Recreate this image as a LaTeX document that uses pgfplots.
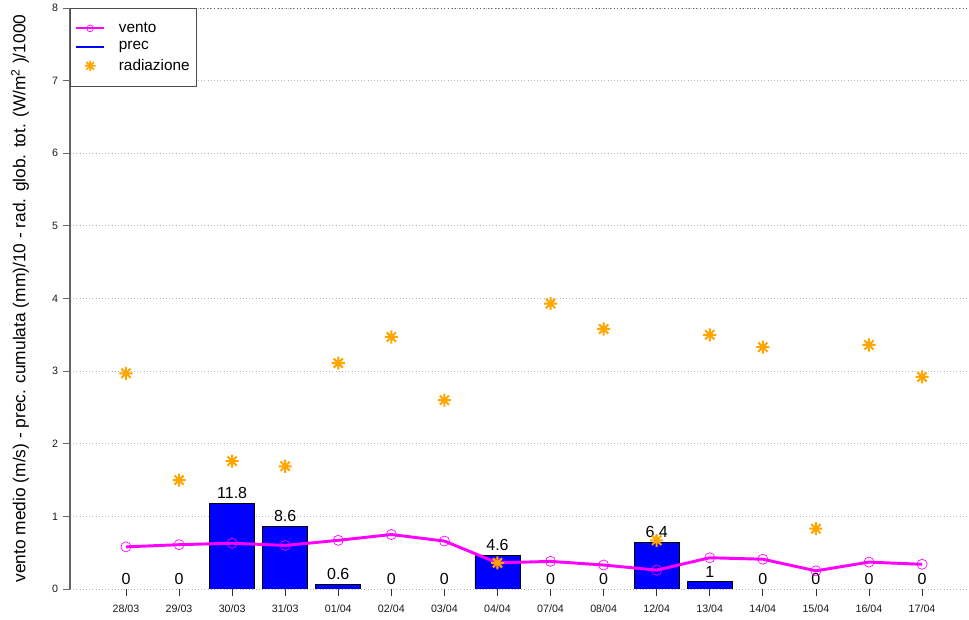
\documentclass[border=0pt]{standalone}
\usepackage{fontspec}
\setmainfont{Liberation Sans}
\usepackage{pgfplots}
\pgfplotsset{compat=1.18}
\usepackage{pgfplotstable}

\definecolor{rmagenta}{HTML}{FF00FF}
\definecolor{rblue}{HTML}{0000FF}
\definecolor{rorange}{HTML}{FFA500}

% R pch=8: "+" and "x" on top of each other
\pgfdeclareplotmark{rstar}{%
  \pgfpathmoveto{\pgfqpoint{-\pgfplotmarksize}{0pt}}%
  \pgfpathlineto{\pgfqpoint{\pgfplotmarksize}{0pt}}%
  \pgfpathmoveto{\pgfqpoint{0pt}{-\pgfplotmarksize}}%
  \pgfpathlineto{\pgfqpoint{0pt}{\pgfplotmarksize}}%
  \pgfpathmoveto{\pgfqpoint{-.7071\pgfplotmarksize}{-.7071\pgfplotmarksize}}%
  \pgfpathlineto{\pgfqpoint{.7071\pgfplotmarksize}{.7071\pgfplotmarksize}}%
  \pgfpathmoveto{\pgfqpoint{-.7071\pgfplotmarksize}{.7071\pgfplotmarksize}}%
  \pgfpathlineto{\pgfqpoint{.7071\pgfplotmarksize}{-.7071\pgfplotmarksize}}%
  \pgfusepathqstroke}

% x = day index, vento (m/s), prec (mm), prec/10, rad/1000
\pgfplotstableread{
x vento prec p10 rad
0  0.58 0    0    2.97
1  0.61 0    0    1.50
2  0.63 11.8 1.18 1.76
3  0.60 8.6  0.86 1.69
4  0.67 0.6  0.06 3.11
5  0.75 0    0    3.47
6  0.66 0    0    2.60
7  0.36 4.6  0.46 0.36
8  0.38 0    0    3.93
9  0.33 0    0    3.58
10 0.26 6.4  0.64 0.67
11 0.43 1    0.10 3.50
12 0.41 0    0    3.33
13 0.25 0    0    0.83
14 0.37 0    0    3.36
15 0.34 0    0    2.92
}\dati

% bars drawn only where it rained
\pgfplotstableread{
x p10
2  1.18
3  0.86
4  0.06
7  0.46
10 0.64
11 0.10
}\barre

\begin{document}
\begin{tikzpicture}
\begin{axis}[
  name=ax,
  scale only axis,
  width=674.25pt, height=435.75pt,
  xmin=-1.055, xmax=15.885,
  ymin=0, ymax=8,
  axis x line*=bottom,
  axis y line*=left,
  x axis line style={draw=none},
  y axis line style={draw=black!60, line width=0.9pt},
  tick align=outside,
  major tick length=5.5pt,
  xtick={0,...,15},
  xticklabels={28/03,29/03,30/03,31/03,01/04,02/04,03/04,04/04,07/04,08/04,12/04,13/04,14/04,15/04,16/04,17/04},
  ytick={0,...,8},
  x tick style={black!80, line width=0.6pt},
  y tick style={black!60, line width=0.6pt},
  /pgf/number format/assume math mode=true,
  tick label style={font=\fontsize{8}{9.5}\selectfont, text=black!90},
  xticklabel style={yshift=-3pt},
  ymajorgrids,
  grid style={black!30, dotted, line width=0.6pt},
  ylabel={vento medio (m/s) - prec. cumulata (mm)/10 - rad. glob. tot. (W/m\textsuperscript{2} )/1000},
  ylabel style={at={(axis description cs:-0.0556,0.5)}, anchor=center, font=\fontsize{13}{15}\selectfont},
  legend style={at={(axis description cs:0,1)}, anchor=north west, draw=black!70, line width=0.7pt,
    font=\fontsize{11.5}{13}\selectfont, row sep=1.5pt, inner xsep=3.5pt, inner ysep=8.5pt,
    nodes={inner sep=2pt}},
  legend cell align=left,
  legend image code/.code={\draw[mark repeat=2,mark phase=2,#1] plot coordinates {(0cm,0cm) (0.37cm,0cm) (0.74cm,0cm)};
    \path (1.03cm,0cm);},
]
% riferimento dello zero e del bordo superiore
\addplot[forget plot, black, dash pattern=on 1.5pt off 1.2pt, line width=0.6pt] coordinates {(-1.055,0) (15.885,0)};
\addplot[forget plot, black!60, dotted, line width=0.7pt] coordinates {(-1.055,8) (15.885,8)};

\addplot[forget plot, ybar, bar width=0.85, fill=rblue, draw=black, line width=0.6pt] table[x=x, y=p10] {\barre};

\addplot[forget plot, only marks, mark=none,
  nodes near coords, point meta=explicit symbolic,
  nodes near coords style={font=\fontsize{12}{14}\selectfont, anchor=south, inner sep=3.2pt}]
  table[x=x, y=p10, meta=prec] {\dati};

\addplot[forget plot, rmagenta, line width=2.2pt, mark=o,
  mark options={line width=0.5pt, mark size=3.8pt, fill=none}] table[x=x, y=vento] {\dati};

\addplot[forget plot, only marks, mark=rstar, rorange, mark size=4.9pt,
  mark options={line width=1.5pt}] table[x=x, y=rad] {\dati};

\addlegendimage{rmagenta, line width=1.5pt, mark=o, mark options={line width=0.5pt, mark size=2.5pt}}
\addlegendentry{vento}
\addlegendimage{rblue, line width=1.5pt}
\addlegendentry{prec}
\addlegendimage{only marks, mark=rstar, rorange, mark size=4pt, mark options={line width=1.3pt}}
\addlegendentry{radiazione}
\end{axis}
\pgfresetboundingbox
\path[use as bounding box] ([xshift=-52.5pt, yshift=6pt]ax.north west) rectangle ([yshift=-23.25pt]ax.south east);
\end{tikzpicture}
\end{document}
